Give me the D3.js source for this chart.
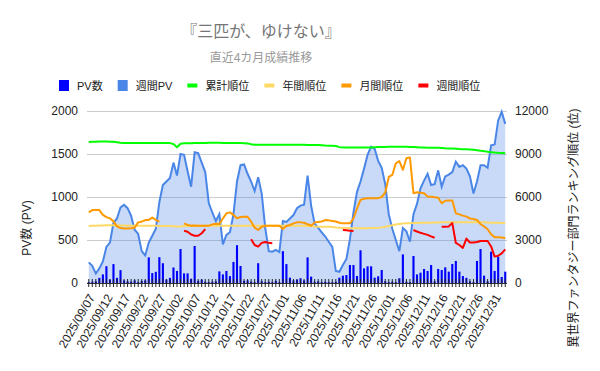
<!DOCTYPE html>
<html>
<head>
<meta charset="utf-8">
<script src="https://cdn.jsdelivr.net/npm/d3@7"></script>
<style>
  body { margin: 0; background: #fff; }
  text { font-family: "Liberation Sans", Arial, "Noto Sans CJK JP", sans-serif; }
</style>
</head>
<body>
<svg id="chart" width="600" height="371"></svg>
<script>
// categories: one per day, 2025/09/07 .. 2026/01/03
const dates = d3.timeDay.range(new Date(2025, 8, 7), new Date(2026, 0, 4));

// daily page views (bars, left axis)
const pvDaily = [10,15,20,60,100,195,40,220,60,150,30,20,15,30,10,25,30,298,115,130,300,230,40,60,180,140,395,112,112,50,
  430,25,40,15,10,15,20,135,100,140,80,245,440,198,25,30,15,10,230,20,10,15,10,25,10,370,220,62,30,40,
  55,30,298,74,15,20,10,15,10,10,15,62,85,93,209,209,81,380,170,194,194,62,78,151,20,10,15,10,55,333,
  15,10,314,100,120,163,140,209,20,163,151,182,132,221,256,132,81,60,20,10,256,395,85,20,364,140,306,70,132];

// weekly page views (area, left axis)
const pvWeekly = [240,200,110,170,250,420,470,700,750,880,910,870,780,620,570,370,320,470,550,630,940,1140,1180,1220,1400,1250,1500,1490,1300,1120,
  1520,1510,1400,1290,930,820,720,800,450,560,590,800,1180,1370,1380,1270,1180,1070,1230,1040,640,370,365,385,360,720,710,750,790,870,
  900,910,1250,900,690,640,590,540,480,420,140,130,210,280,510,820,1060,1180,1330,1490,1585,1560,1420,1340,1150,800,630,500,370,640,
  600,480,800,920,1100,1190,1270,1140,1150,1310,1120,1240,1260,1290,1410,1350,1370,1330,1240,1040,1180,1370,1370,1340,1600,1610,1890,1990,1850];

// rankings (right axis)
const rankTotal = [9840,9850,9860,9870,9870,9870,9860,9850,9820,9780,
  9760,9760,9760,9760,9760,9760,9760,9760,9760,9760,
  9760,9760,9760,9760,9700,9470,9720,9750,9750,9750,
  9760,9760,9770,9770,9780,9780,9780,9780,9770,9770,
  9770,9770,9760,9760,9750,9740,9680,9640,9640,9640,
  9640,9640,9640,9640,9640,9640,9640,9640,9640,9640,
  9640,9640,9630,9630,9630,9620,9610,9590,9580,9580,
  9560,9480,9450,9450,9450,9450,9450,9450,9450,9450,
  9460,9470,9480,9490,9490,9500,9500,9500,9510,9510,
  9500,9490,9480,9470,9460,9450,9440,9440,9440,9430,
  9420,9400,9390,9380,9370,9350,9340,9330,9310,9290,
  9260,9230,9200,9160,9130,9100,9080,9070,9060];

const rankYear = [3980,3990,4000,4010,4020,4030,4030,4030,4030,4020,
  4010,4000,4000,4000,4000,4000,4000,3990,3990,3990,
  3980,3980,3980,3970,3960,3950,3950,3970,3980,3990,
  4000,4000,4000,4000,4000,4000,4000,4000,4000,4000,
  4000,4000,4000,4000,4000,4000,4000,4000,4000,4000,
  4000,4000,4000,4000,4000,3990,3990,3990,3990,3990,
  3990,3990,3980,3970,3950,3930,3930,3930,3920,3900,
  3870,3850,3830,3830,3820,3820,3820,3820,3820,3820,
  3830,3840,3850,3880,3920,3970,4030,4080,4120,4150,
  4160,4170,4180,4190,4200,4200,4210,4210,4220,4220,
  4230,4230,4230,4230,4230,4230,4230,4230,4230,4230,
  4230,4230,4230,4220,4210,4200,4200,4190,4190];

const rankMonth = [4930,5090,5100,5090,4750,4600,4510,4300,3950,3830,3810,3810,3820,3850,4230,4280,4390,4400,4560,4400,4280,null,null,null,null,null,null,4160,4050,4000,
  4020,4000,4000,4000,4000,4090,4130,4110,4500,4860,4930,4750,4520,4600,4630,4620,4280,3860,3700,3930,4000,4000,4000,4000,4000,3770,3980,4050,4160,4230,
  4230,4200,4100,4000,4230,4260,4290,4390,4370,4330,4290,4200,4160,4160,4160,4500,5200,5800,5880,5910,5910,5910,5920,6000,6300,7400,7540,8350,8500,7900,
  8700,8750,6260,6330,6300,6260,6030,6020,5980,5950,5560,5740,5750,5750,4860,4790,4700,4630,4500,4470,4400,4100,3950,3750,3400,3200,3190,3180,3120];

const rankWeek = [null,null,null,null,null,null,null,null,null,null,null,null,null,null,null,null,null,null,null,null,null,null,null,null,null,null,null,
  3650,3580,3380,3300,3300,3470,3760,
  null,null,null,null,null,null,null,null,null,null,null,null,
  3050,2650,2540,2800,2860,2800,2770,
  null,null,null,null,null,null,null,null,null,null,null,null,null,null,null,null,null,null,null,
  3700,3680,3650,3630,
  null,null,null,null,null,null,null,null,null,null,null,null,null,null,null,null,
  3700,3590,3500,3430,3360,3250,3160,
  null,
  3930,3930,3950,4180,2800,2650,2450,3100,2820,2830,2860,2930,2930,2930,2550,1840,1900,2070,2350];

const leftTicks = [0, 500, 1000, 1500, 2000];
const rightTicks = [0, 3000, 6000, 9000, 12000];

const legendItems = [
  { name: "PV数", color: "#0000ff", kind: "box" },
  { name: "週間PV", color: "#4a86e8", kind: "box" },
  { name: "累計順位", color: "#00ff00", kind: "line" },
  { name: "年間順位", color: "#ffd966", kind: "line" },
  { name: "月間順位", color: "#ff9900", kind: "line" },
  { name: "週間順位", color: "#ff0000", kind: "line" }
];

const svg = d3.select("#chart");
const plot = { left: 87, right: 507, top: 111, bottom: 283 };

const x = d3.scaleBand().domain(d3.range(dates.length)).range([plot.left, plot.right]);
const cx = i => x(i) + x.bandwidth() / 2;
const yL = d3.scaleLinear().domain([0, 2000]).range([plot.bottom, plot.top]);
const yR = d3.scaleLinear().domain([0, 12000]).range([plot.bottom, plot.top]);

// title
svg.append("text").attr("x", 261).attr("y", 37).attr("text-anchor", "middle")
  .attr("font-size", 16).attr("fill", "#757575").text("『三匹が、ゆけない』");
svg.append("text").attr("x", 261).attr("y", 62).attr("text-anchor", "middle")
  .attr("font-size", 12).attr("fill", "#999").text("直近4カ月成績推移");

// legend
let lx = 59;
legendItems.forEach(d => {
  if (d.kind === "box") {
    svg.append("rect").attr("x", lx).attr("y", 80).attr("width", 10).attr("height", 11).attr("fill", d.color);
  } else {
    svg.append("rect").attr("x", lx).attr("y", 83.5).attr("width", 10).attr("height", 4).attr("fill", d.color);
  }
  const t = svg.append("text").attr("x", lx + 18).attr("y", 89.5)
    .attr("font-size", 11).attr("fill", "#222").text(d.name);
  lx += 18 + t.node().getComputedTextLength() + 15;
});

// gridlines
svg.append("g").selectAll("line").data(leftTicks).join("line")
  .attr("x1", plot.left).attr("x2", plot.right)
  .attr("y1", d => yL(d) + 0.5).attr("y2", d => yL(d) + 0.5)
  .attr("stroke", "#cccccc");

// weekly PV area
const area = d3.area().x((d, i) => cx(i)).y0(plot.bottom).y1(d => yL(d));
svg.append("path").datum(pvWeekly).attr("d", area).attr("fill", "#4a86e8").attr("fill-opacity", 0.3);

// daily PV bars
const bw = x.bandwidth() * 0.6;
svg.append("g").selectAll("rect").data(pvDaily).join("rect")
  .attr("x", (d, i) => cx(i) - bw / 2).attr("width", bw)
  .attr("y", d => yL(d)).attr("height", d => plot.bottom - yL(d))
  .attr("fill", "#0000ff");

svg.append("path").datum(pvWeekly)
  .attr("d", d3.line().x((d, i) => cx(i)).y(d => yL(d)))
  .attr("fill", "none").attr("stroke", "#4a86e8").attr("stroke-width", 2);

// ranking lines
const rankLine = d3.line().defined(d => d != null).x((d, i) => cx(i)).y(d => yR(d));
[[rankTotal, "#00ff00"], [rankYear, "#ffd966"], [rankMonth, "#ff9900"], [rankWeek, "#ff0000"]].forEach(([data, color]) => {
  svg.append("path").datum(data).attr("d", rankLine)
    .attr("fill", "none").attr("stroke", color).attr("stroke-width", 2).attr("stroke-linejoin", "round");
});

// left axis
const gL = svg.append("g").attr("transform", `translate(${plot.left},0)`)
  .call(d3.axisLeft(yL).tickValues(leftTicks).tickFormat(d3.format("d")).tickSize(0).tickPadding(9));
gL.select(".domain").remove();
gL.selectAll("text").attr("font-size", 12).attr("fill", "#222").attr("font-family", null);

// right axis
const gR = svg.append("g").attr("transform", `translate(${plot.right},0)`)
  .call(d3.axisRight(yR).tickValues(rightTicks).tickFormat(d3.format("d")).tickSize(0).tickPadding(8));
gR.select(".domain").remove();
gR.selectAll("text").attr("font-size", 12).attr("fill", "#222").attr("font-family", null);

// bottom axis
const fmt = d3.timeFormat("%Y/%m/%d");
const gB = svg.append("g").attr("transform", `translate(0,${plot.bottom})`)
  .call(d3.axisBottom(x).tickSize(4).tickFormat(i => i % 5 === 0 ? fmt(dates[i]) : ""));
gB.select(".domain").attr("stroke", "#333").attr("d", `M${plot.left},0.5H${plot.right}`);
gB.selectAll(".tick line").attr("y1", -4).attr("y2", 4).attr("stroke", "#222");
gB.selectAll(".tick text")
  .attr("font-size", 12).attr("fill", "#222").attr("font-family", null)
  .attr("text-anchor", "end").attr("x", 0).attr("y", 0).attr("dy", "0.35em")
  .attr("transform", "translate(3,12) rotate(-60)");

// axis titles
svg.append("text").attr("transform", "translate(31,228) rotate(-90)")
  .attr("text-anchor", "middle").attr("font-size", 12).attr("fill", "#222").text("PV数 (PV)");
svg.append("text").attr("transform", "translate(578,228) rotate(-90)")
  .attr("text-anchor", "middle").attr("font-size", 12).attr("fill", "#222").text("異世界ファンタジー部門ランキング順位 (位)");
</script>
</body>
</html>
